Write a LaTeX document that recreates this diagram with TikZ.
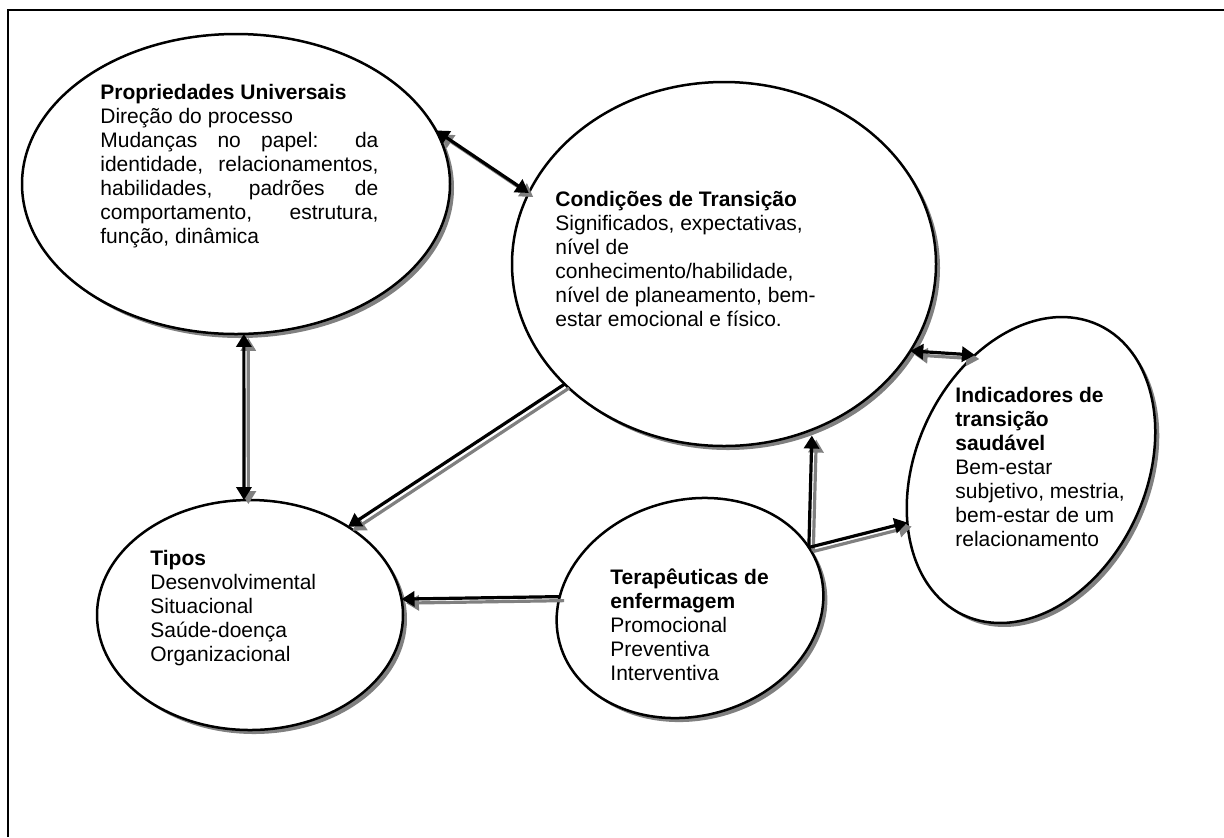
\documentclass[tikz,border=0pt]{standalone}
\usepackage{fontspec}
\setmainfont{Liberation Sans}
\usetikzlibrary{arrows.meta,shapes.geometric,shadows}
\definecolor{shadowgray}{HTML}{808080}
\hyphenpenalty=10000
\exhyphenpenalty=10000
\hbadness=10000
\tikzset{
  bubble/.style={ellipse, draw=black, line width=1.25pt, fill=white,
    inner sep=0pt, outer sep=0pt,
    drop shadow={shadow xshift=2pt, shadow yshift=-2pt, fill=shadowgray, opacity=1}},
  label/.style={anchor=base west, inner sep=0pt,
    font=\fontsize{10.5pt}{12pt}\selectfont},
  link/.style={line width=1.6pt, draw=black, >={Triangle[length=6.5pt,width=7.5pt]}},
  linkshade/.style={line width=1.6pt, draw=shadowgray, >={Triangle[length=6.5pt,width=7.5pt]},
    transform canvas={shift={(2.2pt,-2pt)}}},
}
% connector with a grey drop copy underneath
\newcommand\connect[4][]{%
  \draw[linkshade,#2,#1] (#3) -- (#4);
  \draw[link,#2,#1] (#3) -- (#4);}

\begin{document}
\begin{tikzpicture}[x=0.5pt,y=-0.5pt]
\useasboundingbox (0,0) rectangle (1224,837);

% frame
\draw[line width=1pt] (7.5,837) -- (7.5,10) -- (1224,10);

% concept ellipses
\node[bubble, minimum width=214pt, minimum height=150pt] (prop) at (236,184) {};
\node[bubble, minimum width=212pt, minimum height=182pt] (cond) at (724,264) {};
\node[bubble, minimum width=115pt, minimum height=160pt, rotate=-25] (ind) at (1031,470) {};
\node[bubble, minimum width=135pt, minimum height=108pt, rotate=15] (ter) at (690,608) {};
\node[bubble, minimum width=153pt, minimum height=115pt] (tipos) at (250,615) {};

% texts
\node[label] (tprop) at (100,99) {\parbox[t]{139pt}{%
  \textbf{Propriedades Universais}\\
  Direção do processo\\
  Mudanças no papel: da\linebreak
  identidade, relacionamentos,\linebreak
  habilidades, padrões de\linebreak
  comportamento, estrutura,\linebreak
  função, dinâmica}};
\node[label] (tcond) at (555,206) {\parbox[t]{200pt}{\raggedright
  \textbf{Condições de Transição}\\
  Significados, expectativas,\\
  nível de\\
  conhecimento/habilidade,\\
  nível de planeamento, bem-\\
  estar emocional e físico.}};
\node[label] (tind) at (955,402) {\parbox[t]{150pt}{\raggedright
  \textbf{Indicadores de}\\
  \textbf{transição}\\
  \textbf{saudável}\\
  Bem-estar\\
  subjetivo, mestria,\\
  bem-estar de um\\
  relacionamento}};
\node[label] (tter) at (610,584) {\parbox[t]{150pt}{\raggedright
  \textbf{Terapêuticas de}\\
  \textbf{enfermagem}\\
  Promocional\\
  Preventiva\\
  Interventiva}};
\node[label] (ttipos) at (150,565) {\parbox[t]{150pt}{\raggedright
  \textbf{Tipos}\\
  Desenvolvimental\\
  Situacional\\
  Saúde-doença\\
  Organizacional}};

% connectors
\connect{<->}{prop.15.8}{cond.160.7}
\connect{<->}{prop.-87.3}{tipos.93.5}
\connect{->}{cond.-143.4}{tipos.42.9}
\connect{->}{ter.160.6}{tipos.6.3}
\connect[shorten >=3pt]{->}{ter.12.6}{cond.-62.9}
\connect{->}{ter.12.6}{ind.-132.7}
\connect{<->}{cond.-25.3}{ind.141.3}
\end{tikzpicture}
\end{document}
